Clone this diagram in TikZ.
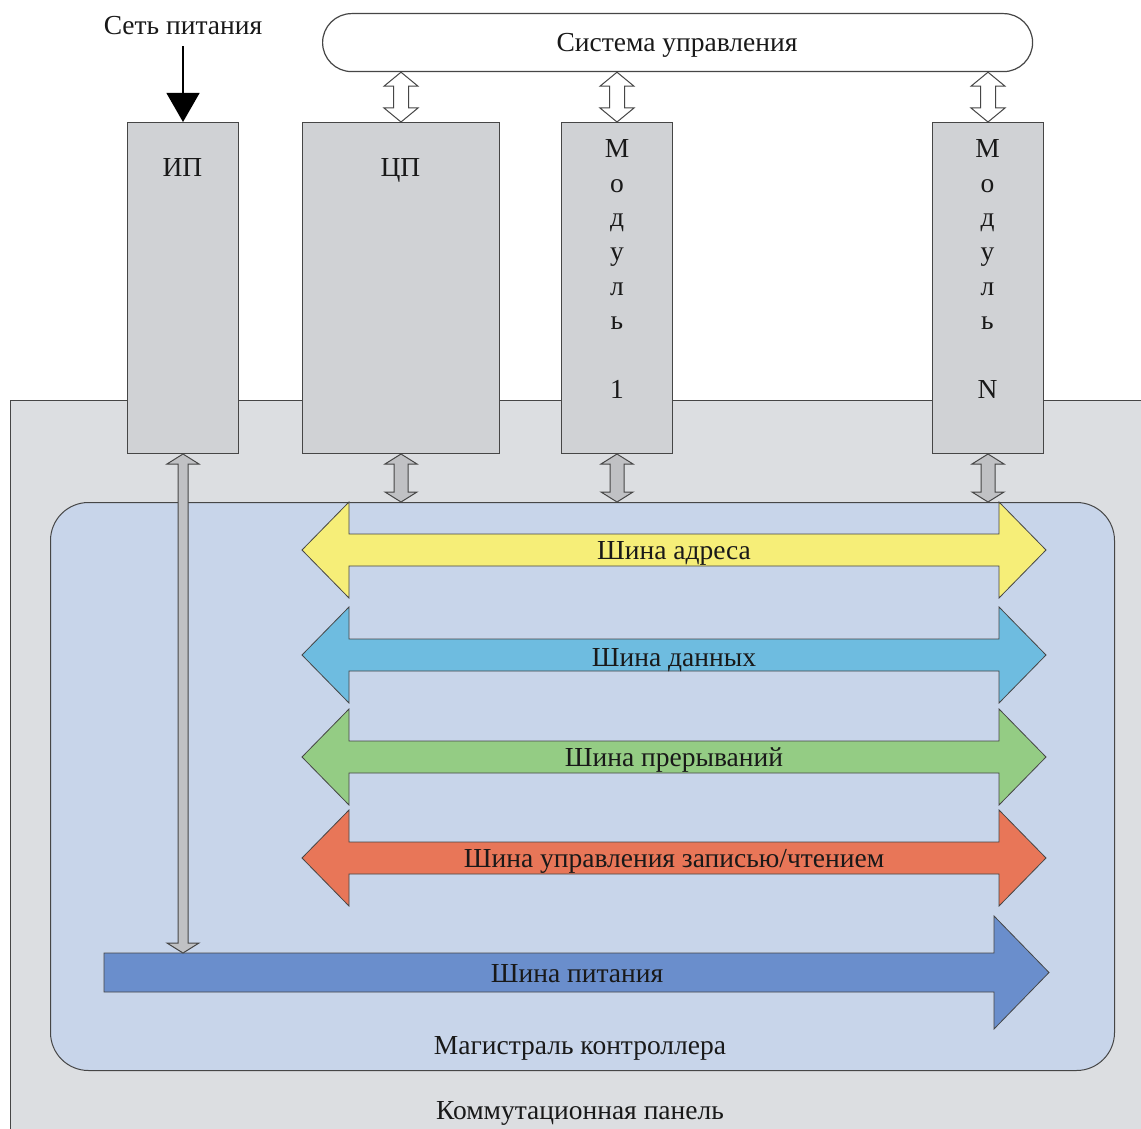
\documentclass[tikz,border=0pt]{standalone}
\usepackage{fontspec}
\setmainfont{Liberation Serif}
\usetikzlibrary{arrows.meta,calc}
\definecolor{panelgray}{RGB}{220,222,225}
\definecolor{boxgray}{RGB}{208,210,213}
\definecolor{magblue}{RGB}{200,213,234}
\definecolor{busyellow}{RGB}{246,238,120}
\definecolor{busblue}{RGB}{110,188,224}
\definecolor{busgreen}{RGB}{148,204,132}
\definecolor{busred}{RGB}{232,118,88}
\definecolor{buspower}{RGB}{106,142,204}
\definecolor{edge}{RGB}{70,70,70}
\definecolor{ink}{RGB}{25,25,25}
\definecolor{arrgray}{RGB}{192,193,196}
\newcommand\vdarr[6]{%
  \path[#6] let \p1=(#1), \p2=(#2) in
    (\x1,\y1) -- ({\x1+#4pt},{\y1-#5pt}) -- ({\x1+#3pt},{\y1-#5pt})
    -- ({\x1+#3pt},{\y2+#5pt}) -- ({\x1+#4pt},{\y2+#5pt}) -- (\x1,\y2)
    -- ({\x1-#4pt},{\y2+#5pt}) -- ({\x1-#3pt},{\y2+#5pt})
    -- ({\x1-#3pt},{\y1-#5pt}) -- ({\x1-#4pt},{\y1-#5pt}) -- cycle;}
\newcommand\dbus[2]{%
  \filldraw[fill=#2, draw=edge, line width=0.8pt]
    (302,#1) -- (349,{#1-48}) -- (349,{#1-16}) -- (999,{#1-16}) -- (999,{#1-48})
    -- (1046,#1) -- (999,{#1+48}) -- (999,{#1+16}) -- (349,{#1+16})
    -- (349,{#1+48}) -- cycle;}
\begin{document}
\begin{tikzpicture}[x=1pt,y=-1pt, font=\fontsize{27.5}{32}\selectfont, text=ink,
  box/.style={draw=edge, fill=boxgray, line width=1pt, inner sep=0pt, anchor=north west, minimum height=331pt},
  lbl/.style={inner sep=0pt, anchor=base},
  hollow/.style={draw=edge, fill=white, line width=1pt},
  grayarr/.style={draw=edge, fill=arrgray, line width=1pt}]
\useasboundingbox (0,0) rectangle (1141,1129);
\fill[white] (0,0) rectangle (1141,1129);
% panel
\node[draw=edge, fill=panelgray, line width=1pt, minimum width=1200pt, minimum height=800pt,
      anchor=north west, inner sep=0pt] (panel) at (10,400) {};
% magistral
\node[draw=edge, fill=magblue, rounded corners=38pt, line width=1pt, minimum width=1064pt,
      minimum height=568pt, anchor=north west, inner sep=0pt] (mag) at (50,502) {};
% system
\node[draw=edge, fill=white, rounded corners=29pt, line width=1.2pt, minimum width=710pt,
      minimum height=58pt, anchor=north west, inner sep=0pt] (sys) at (322,13) {};
\node[lbl] (systxt) at (677,52) {Система управления};
% boxes
\node[box, minimum width=111pt] (ip) at (127,122) {};
\node[box, minimum width=197pt] (cpu) at (302,122) {};
\node[box, minimum width=111pt] (m1) at (561,122) {};
\node[box, minimum width=111pt] (mN) at (932,122) {};
\node[lbl] (iptxt) at (182.5,176) {ИП};
\node[lbl] (cputxt) at (400.5,176) {ЦП};
\foreach \k/\c in {0/М,1/о,2/д,3/у,4/л,5/ь,7/1}
  \node[lbl] (mA\k) at (617,{158+34.3*\k}) {\c};
\foreach \k/\c in {0/М,1/о,2/д,3/у,4/л,5/ь,7/N}
  \node[lbl] (mB\k) at (987.5,{158+34.3*\k}) {\c};
% power input
\node[lbl] (net) at (183,35) {Сеть питания};
\draw[black, line width=1.2pt, shorten <=11pt, -{Triangle[width=33pt,length=29pt]}] (net.south) -- (ip.north);
% top hollow arrows
\vdarr{cpu.north |- sys.south}{cpu.north}{7.5}{17}{14}{hollow}
\vdarr{m1.north |- sys.south}{m1.north}{7.5}{17}{14}{hollow}
\vdarr{mN.north |- sys.south}{mN.north}{7.5}{17}{14}{hollow}
% lower gray arrows
\vdarr{cpu.south}{cpu.south |- mag.north}{7}{16}{10}{grayarr}
\vdarr{m1.south}{m1.south |- mag.north}{7}{16}{10}{grayarr}
\vdarr{mN.south}{mN.south |- mag.north}{7}{16}{10}{grayarr}
% buses
\dbus{550}{busyellow}
\dbus{655}{busblue}
\dbus{757}{busgreen}
\dbus{858}{busred}
\node[lbl] (busA) at (674,559) {Шина адреса};
\node[lbl] (busD) at (674,666) {Шина данных};
\node[lbl] (busI) at (674,766) {Шина прерываний};
\node[lbl] (busW) at (674,867) {Шина управления записью/чтением};
% power bus
\coordinate (pwtop) at (104,953);
\filldraw[fill=buspower, draw=edge, line width=0.8pt]
  (pwtop) -- (994,953) -- (994,916) -- (1049,972.5) -- (994,1029) -- (994,992) -- (104,992) -- cycle;
\node[lbl] (busP) at (577,982) {Шина питания};
\vdarr{ip.south}{ip.south |- pwtop}{5}{16}{10}{grayarr}
% captions
\node[lbl] (magtxt) at (580,1054) {Магистраль контроллера};
\node[lbl] (paneltxt) at (580,1119) {Коммутационная панель};
\end{tikzpicture}
\end{document}
